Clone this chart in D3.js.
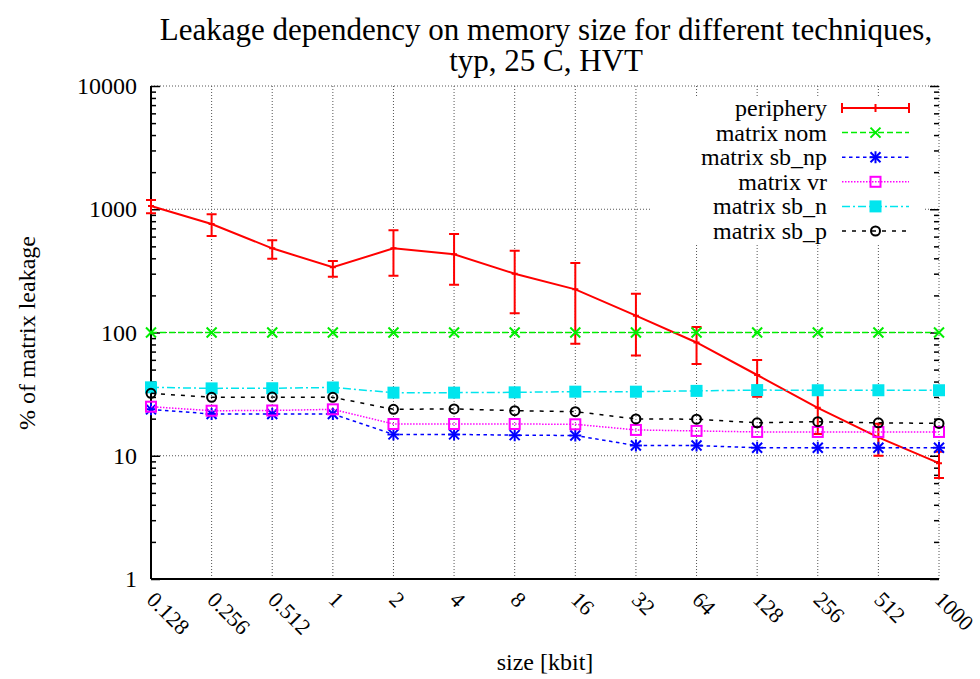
<!DOCTYPE html>
<html>
<head>
<meta charset="utf-8">
<script src="https://cdn.jsdelivr.net/npm/d3@7"></script>
<style>
  text { font-family: 'Liberation Serif' !important; }
</style>
</head>
<body style="margin:0">
<svg id="chart" width="980" height="679" font-family="Liberation Serif"></svg>
<script>
// DATA ////////////////////////////////////////////////////////////
var sizes = ["0.128","0.256","0.512","1","2","4","8","16","32","64","128","256","512","1000"];

var periphery     = [1062, 759, 482, 338, 482, 431, 300, 224, 137, 83, 45.2, 24.5, 14.1, 8.7];
var peripheryLow  = [927, 606, 397, 284, 289, 244, 143, 81, 65, 55.5, 30.1, 15, 10.0, 6.6];
var peripheryHigh = [1189, 910, 560, 380, 675, 630, 461, 366, 206, 111, 59.8, 34, 18.2, 10.8];

var matrixNom  = [100, 100, 100, 100, 100, 100, 100, 100, 100, 100, 100, 100, 100, 100];
var matrixSbNp = [23.8, 21.8, 21.8, 21.8, 14.9, 14.9, 14.7, 14.6, 12.1, 12.1, 11.6, 11.6, 11.6, 11.6];
var matrixVr   = [25.0, 23.2, 23.3, 23.8, 18.1, 18.1, 18.1, 18.0, 16.2, 15.9, 15.6, 15.6, 15.6, 15.6];
var matrixSbN  = [35.9, 35.2, 35.3, 35.8, 32.5, 32.5, 32.7, 33.1, 33.1, 33.6, 34.1, 34, 34, 34];
var matrixSbP  = [32.1, 29.8, 29.9, 29.8, 23.8, 24.0, 23.2, 22.8, 19.9, 19.8, 18.5, 18.9, 18.5, 18.3];

var yTickValues = [1, 10, 100, 1000, 10000];

// SETUP ///////////////////////////////////////////////////////////
var plotLeft = 151, plotRight = 939, plotTop = 86, plotBottom = 579;

var svg = d3.select("#chart");

var x = d3.scalePoint().domain(sizes).range([plotLeft, plotRight]);
var y = d3.scaleLog().domain([1, 10000]).range([plotBottom, plotTop]);

var series = [
  { name: "matrix nom",   values: matrixNom,  color: "#00ee00", dash: "6,3",     marker: "x" },
  { name: "matrix sb_np", values: matrixSbNp, color: "#0000ff", dash: "3.5,3.5", marker: "star" },
  { name: "matrix vr",    values: matrixVr,   color: "#ff00ff", dash: "1.5,1.5", marker: "square" },
  { name: "matrix sb_n",  values: matrixSbN,  color: "#00e5ee", dash: "8,3,2,3", marker: "fsquare" },
  { name: "matrix sb_p",  values: matrixSbP,  color: "#000000", dash: "4,6",     marker: "circle" }
];

function setFont(sel, size){
  return sel.attr("font-family", "Liberation Serif")
    .attr("font-size", size)
    .style("font-family", "'Liberation Serif', monospace")
    .style("font-size", size + "px");
}

function label(g, px, py, txt, size, anchor){
  var t = g.append("text").attr("x", px).attr("y", py)
    .attr("text-anchor", anchor || "middle").attr("fill", "#000")
    .text(txt);
  return setFont(t, size);
}

// GRID ////////////////////////////////////////////////////////////
var grid = svg.append("g").attr("class", "grid")
  .attr("stroke", "#555").attr("stroke-width", 1).attr("stroke-dasharray", "1,2");

grid.selectAll(".vgrid").data(sizes.slice(1))
  .enter().append("line").attr("class", "vgrid")
  .attr("x1", function(d){ return x(d); }).attr("x2", function(d){ return x(d); })
  .attr("y1", plotTop).attr("y2", plotBottom);

grid.selectAll(".hgrid").data(yTickValues.slice(1))
  .enter().append("line").attr("class", "hgrid")
  .attr("x1", plotLeft).attr("x2", plotRight)
  .attr("y1", function(d){ return y(d); }).attr("y2", function(d){ return y(d); });

// AXES ////////////////////////////////////////////////////////////
var minorTicks = y.ticks().filter(function(d){ return yTickValues.indexOf(d) < 0; });

var yMajor = svg.append("g").attr("transform", "translate(" + plotLeft + ",0)")
  .call(d3.axisLeft(y).tickValues(yTickValues).tickSize(-9).tickPadding(14).tickFormat(d3.format("d")));
var yMinor = svg.append("g").attr("transform", "translate(" + plotLeft + ",0)")
  .call(d3.axisLeft(y).tickValues(minorTicks).tickSize(-5).tickFormat(""));
var yMajorR = svg.append("g").attr("transform", "translate(" + plotRight + ",0)")
  .call(d3.axisRight(y).tickValues(yTickValues).tickSize(-9).tickFormat(""));
var yMinorR = svg.append("g").attr("transform", "translate(" + plotRight + ",0)")
  .call(d3.axisRight(y).tickValues(minorTicks).tickSize(-5).tickFormat(""));

[yMajor, yMinor, yMajorR, yMinorR].forEach(function(g){
  g.attr("font-family", "Liberation Serif");
  g.selectAll(".tick line").attr("stroke", "#000").attr("stroke-width", 1.5);
  g.select(".domain").remove();
});
setFont(yMajor.selectAll("text"), 24);

var xAxis = svg.append("g").attr("transform", "translate(0," + plotBottom + ")")
  .call(d3.axisBottom(x).tickSize(0).tickPadding(0));
xAxis.attr("font-family", "Liberation Serif");
xAxis.select(".domain").remove();
setFont(xAxis.selectAll(".tick text"), 22)
  .attr("text-anchor", "start")
  .attr("dy", null)
  .attr("transform", "translate(-6,22) rotate(45)");

svg.append("line").attr("x1", plotLeft).attr("x2", plotLeft).attr("y1", plotTop).attr("y2", plotBottom)
  .attr("stroke", "#000").attr("stroke-width", 2);
svg.append("line").attr("x1", plotLeft).attr("x2", plotRight).attr("y1", plotBottom).attr("y2", plotBottom)
  .attr("stroke", "#000").attr("stroke-width", 2);

// TITLES //////////////////////////////////////////////////////////
label(svg, 546, 40, "Leakage dependency on memory size for different techniques,", 31);
label(svg, 546, 71, "typ, 25 C, HVT", 31);
label(svg, 545, 670, "size [kbit]", 24);
label(svg, 0, 0, "% of matrix leakage", 24).attr("transform", "translate(35,333) rotate(-90)");

// LEGEND BACKGROUND ///////////////////////////////////////////////
var keyX = 827, keyY = 108, keyStep = 24.6;
svg.append("rect").attr("x", 650).attr("y", 96).attr("width", 275).attr("height", 148).attr("fill", "#fff");

// MARKERS /////////////////////////////////////////////////////////
function drawMarker(g, type, cx, cy, color){
  var s = 5;
  if (type === "x" || type === "star"){
    g.append("path").attr("d", "M" + (cx-s) + "," + (cy-s) + "L" + (cx+s) + "," + (cy+s) +
      "M" + (cx-s) + "," + (cy+s) + "L" + (cx+s) + "," + (cy-s))
      .attr("stroke", color).attr("stroke-width", 2).attr("fill", "none");
    if (type === "star"){
      g.append("path").attr("d", "M" + (cx-s-1) + "," + cy + "L" + (cx+s+1) + "," + cy +
        "M" + cx + "," + (cy-s-1) + "L" + cx + "," + (cy+s+1))
        .attr("stroke", color).attr("stroke-width", 2).attr("fill", "none");
    }
  } else if (type === "square"){
    g.append("rect").attr("x", cx-s).attr("y", cy-s).attr("width", 2*s).attr("height", 2*s)
      .attr("stroke", color).attr("stroke-width", 2).attr("fill", "none");
  } else if (type === "fsquare"){
    g.append("rect").attr("x", cx-s-1).attr("y", cy-s-1).attr("width", 2*s+2).attr("height", 2*s+2)
      .attr("fill", color);
  } else if (type === "circle"){
    g.append("circle").attr("cx", cx).attr("cy", cy).attr("r", s-0.5)
      .attr("stroke", color).attr("stroke-width", 2).attr("fill", "none");
  }
}

// PERIPHERY (errorlines) //////////////////////////////////////////
var line = d3.line().x(function(d, i){ return x(sizes[i]); }).y(function(d){ return y(d); });

var pg = svg.append("g").attr("class", "periphery");
pg.append("path").datum(periphery).attr("d", line)
  .attr("fill", "none").attr("stroke", "#ff0000").attr("stroke-width", 2);
pg.selectAll(".err").data(periphery).enter().append("path").attr("class", "err")
  .attr("d", function(d, i){
    var cx = x(sizes[i]), lo = y(peripheryLow[i]), hi = y(peripheryHigh[i]);
    return "M" + cx + "," + lo + "L" + cx + "," + hi +
      "M" + (cx-5) + "," + lo + "L" + (cx+5) + "," + lo +
      "M" + (cx-5) + "," + hi + "L" + (cx+5) + "," + hi +
      "M" + (cx-3) + "," + y(d) + "L" + (cx+3) + "," + y(d);
  })
  .attr("fill", "none").attr("stroke", "#ff0000").attr("stroke-width", 2);

// key entry for periphery
label(svg, keyX, keyY + 8, "periphery", 24, "end");
svg.append("path")
  .attr("d", "M842," + keyY + "L909," + keyY + "M842," + (keyY-5) + "L842," + (keyY+5) +
    "M909," + (keyY-5) + "L909," + (keyY+5) + "M875.5," + (keyY-4) + "L875.5," + (keyY+4))
  .attr("fill", "none").attr("stroke", "#ff0000").attr("stroke-width", 2);

// MATRIX SERIES ///////////////////////////////////////////////////
series.forEach(function(s, k){
  var g = svg.append("g").attr("class", "series");
  g.append("path").datum(s.values).attr("d", line)
    .attr("fill", "none").attr("stroke", s.color).attr("stroke-width", 1.5)
    .attr("stroke-dasharray", s.dash);
  s.values.forEach(function(v, i){ drawMarker(g, s.marker, x(sizes[i]), y(v), s.color); });

  var ky = keyY + keyStep * (k + 1);
  label(svg, keyX, ky + 8, s.name, 24, "end");
  svg.append("line").attr("x1", 842).attr("x2", 909).attr("y1", ky).attr("y2", ky)
    .attr("stroke", s.color).attr("stroke-width", 1.5).attr("stroke-dasharray", s.dash);
  drawMarker(svg.append("g"), s.marker, 875.5, ky, s.color);
});
</script>
</body>
</html>
